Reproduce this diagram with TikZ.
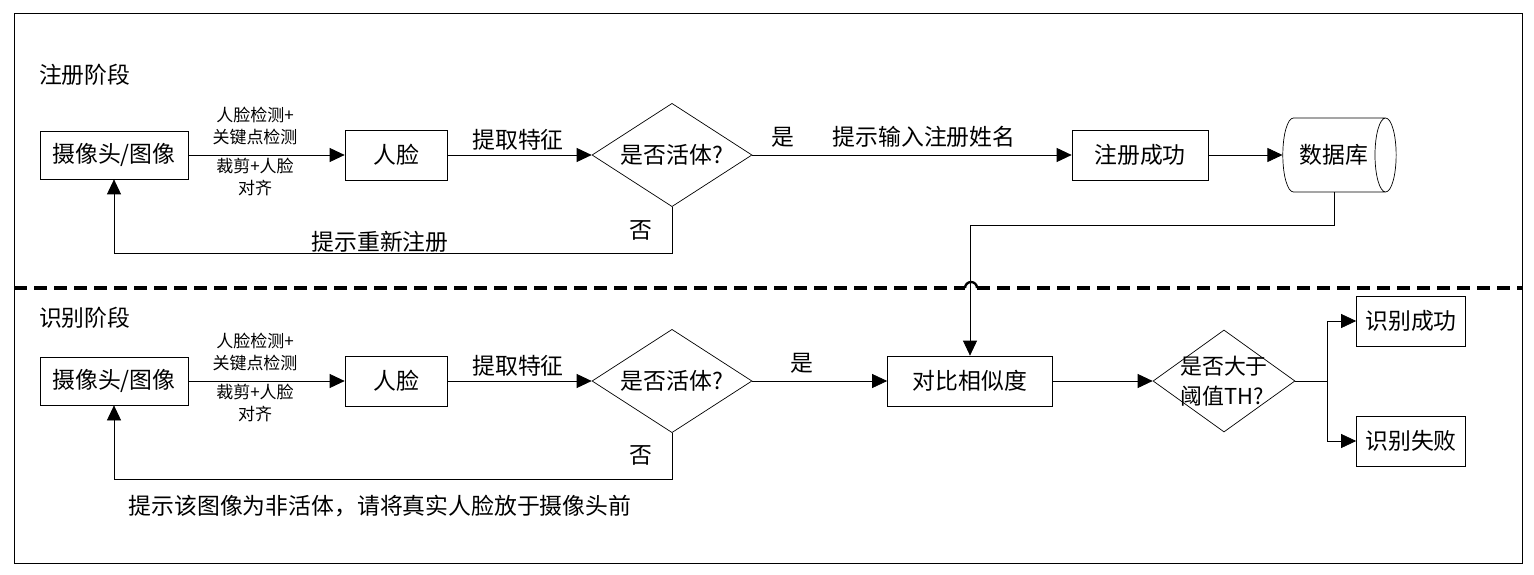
\documentclass[tikz,border=0pt]{standalone}
\usepackage{fontspec}
\setmainfont{Noto Sans CJK SC}
\usetikzlibrary{arrows.meta}
\usetikzlibrary{shapes.geometric}

\begin{document}
\begin{tikzpicture}[x=0.3mm, y=-0.3mm,
    every node/.style={font=\fontsize{19.5}{23}\selectfont},
    box/.style={draw, line width=0.6pt, minimum height=15mm, inner sep=0pt},
    decide/.style={draw, diamond, line width=0.6pt, inner sep=0pt, aspect=1.52,
        minimum width=48mm, minimum height=31mm},
    store/.style={draw, cylinder, line width=0.6pt, shape aspect=1,
        minimum height=34mm, minimum width=22.2mm, inner sep=0pt},
    arr/.style={line width=0.6pt, -{Triangle[length=4.5mm, width=4.2mm]}},
    line/.style={line width=0.6pt},
    small/.style={font=\fontsize{14.5}{18.5}\selectfont, align=center},
    divider/.style={line width=2.8pt, dash pattern=on 3.9mm off 2.1mm}]
    \useasboundingbox (0,0) rectangle (1534,575);

    % frame
    \draw[line width=0.8pt] (14,13) rectangle (1522,563);

    % registration phase
    \node[anchor=west] (regtitle) at (35,75) {注册阶段};
    \node[box, minimum width=44.4mm, minimum height=14.4mm] (cam1) at (114,155) {摄像头/图像};
    \node[box, minimum width=30.6mm] (face1) at (396,155) {人脸};
    \node[decide] (live1) at (672,155) {是否活体?};
    \node[box, minimum width=40.8mm] (regok) at (1140,155) {注册成功};
    \node[store] (db) at (1334,155) {数据库};

    \node[small] (det1) at (255,126) {人脸检测+\\关键点检测};
    \node[small] (crop1) at (255,177) {裁剪+人脸\\对齐};
    \node (feat1) at (518,140) {提取特征};
    \node (yes1) at (783,137) {是};
    \node (askname) at (924,137) {提示输入注册姓名};
    \node (no1) at (641,230) {否};
    \node (retry) at (380,242) {提示重新注册};

    \draw[arr] (cam1) -- (face1);
    \draw[arr] (face1) -- (live1);
    \draw[arr] (live1) -- (regok);
    \draw[arr] (regok) -- (db);
    \draw[arr] (live1.south) -- ++(0,46) -| (cam1.south);

    % divider with hop
    \draw[divider] (14,288) -- (965,288);
    \draw[divider] (977,288) -- (1522,288);
    \draw[line width=2pt] (965,288) arc[start angle=180, end angle=0, radius=1.8mm];

    % recognition phase
    \node[anchor=west] (rectitle) at (35,318) {识别阶段};
    \node[box, minimum width=44.4mm, minimum height=14.4mm] (cam2) at (114,381) {摄像头/图像};
    \node[box, minimum width=30.6mm] (face2) at (396,381) {人脸};
    \node[decide] (live2) at (672,381) {是否活体?};
    \node[box, minimum width=49.5mm] (cmp) at (970,381) {对比相似度};
    \node[decide, aspect=1.39, minimum width=42.6mm, minimum height=30.6mm,
        label={[name=thtext, align=left, font=\fontsize{18.7}{25.5}\selectfont]center:是否大于\\阈值TH?}] (th) at (1224,381) {};
    \node[box, minimum width=32.7mm] (ok) at (1411,321) {识别成功};
    \node[box, minimum width=32.7mm] (fail) at (1411,441) {识别失败};
    \coordinate (split) at (1327,381);

    \node[small] (det2) at (255,352) {人脸检测+\\关键点检测};
    \node[small] (crop2) at (255,403) {裁剪+人脸\\对齐};
    \node (feat2) at (518,366) {提取特征};
    \node (yes2) at (802,363) {是};
    \node (no2) at (641,455) {否};
    \node (hint) at (380,506) {提示该图像为非活体，请将真实人脸放于摄像头前};

    \draw[arr] (cam2) -- (face2);
    \draw[arr] (face2) -- (live2);
    \draw[arr] (live2) -- (cmp);
    \draw[arr] (cmp) -- (th);
    \draw[line] (th.east) -- (split);
    \draw[arr] (split) |- (ok.west);
    \draw[arr] (split) |- (fail.west);
    \draw[arr] (live2.south) -- ++(0,46) -| (cam2.south);
    \draw[arr] (db.south) -- ++(0,33) -| (cmp.north);
\end{tikzpicture}
\end{document}
